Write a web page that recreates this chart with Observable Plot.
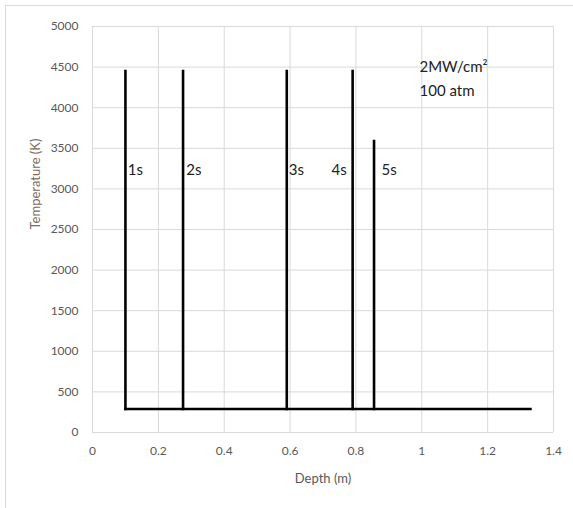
<!DOCTYPE html>
<html>
<head>
<meta charset="utf-8">
<script src="https://cdn.jsdelivr.net/npm/d3@7"></script>
<script src="https://cdn.jsdelivr.net/npm/@observablehq/plot@0.6"></script>
<style>
  html, body { margin: 0; padding: 0; background: #fff; }
  #wrap { position: relative; width: 573px; height: 508px; overflow: hidden; }
  #frame { position: absolute; left: 5px; top: 5px; width: 600px; height: 600px; border: 1px solid #d9d9d9; box-sizing: border-box; pointer-events: none; }
  svg { display: block; }
</style>
</head>
<body>
<div id="wrap"><div id="frame"></div></div>
<script>
// Data
const times = ["1s", "2s", "3s", "4s", "5s"];
const depths = [0.1, 0.275, 0.59, 0.79, 0.855];      // m
const peakTemps = [4450, 4450, 4450, 4450, 3590];    // K
const baseTemp = 290;                                // K
const maxDepth = 1.33;                               // m
const labelDepths = [0.107, 0.285, 0.596, 0.772, 0.878];
const labelSide = ["start", "start", "start", "end", "start"];
const labelTemp = 3230;
const annotLines = ["2MW/cm²", "100 atm"];
const annotDepth = 0.993;
const annotTemps = [4500, 4200];
const xTicks = [0, 0.2, 0.4, 0.6, 0.8, 1, 1.2, 1.4];
const yTicks = [0, 500, 1000, 1500, 2000, 2500, 3000, 3500, 4000, 4500, 5000];

const verticals = times.flatMap((t, i) => [
  {t, x: depths[i], y: peakTemps[i]},
  {t, x: depths[i], y: baseTemp}
]);
const baseline = [{x: depths[0], y: baseTemp}, {x: maxDepth, y: baseTemp}];
const labels = times.map((t, i) => ({t, x: labelDepths[i], y: labelTemp, side: labelSide[i]}));
const annots = annotLines.map((s, i) => ({s, x: annotDepth, y: annotTemps[i]}));

const font = "Lato, 'Open Sans', sans-serif";
const fmt = d => String(d);
const chart = Plot.plot({
  width: 573,
  height: 508,
  marginLeft: 92,
  marginRight: 20,
  marginTop: 26,
  marginBottom: 76,
  style: {fontFamily: font, fontSize: "12px", color: "#595959", background: "transparent"},
  x: {domain: [0, 1.4], label: null},
  y: {domain: [0, 5000], label: null},
  marks: [
    Plot.gridX(xTicks, {stroke: "#d9d9d9", strokeOpacity: 1, strokeWidth: 1}),
    Plot.gridY(yTicks, {stroke: "#d9d9d9", strokeOpacity: 1, strokeWidth: 1}),
    Plot.axisX(xTicks, {tickSize: 0, tickPadding: 14, tickFormat: fmt, fill: "#595959", fontSize: 12, label: null}),
    Plot.axisY(yTicks, {tickSize: 0, tickPadding: 14, tickFormat: fmt, fill: "#595959", fontSize: 12, label: null}),
    Plot.text(["Depth (m)"], {frameAnchor: "bottom", dy: 50, fill: "#595959", fontSize: 13}),
    Plot.text(["Temperature (K)"], {frameAnchor: "left", dx: -57, rotate: -90, fill: "#7d6a5a", fontSize: 13}),
    Plot.line(verticals, {x: "x", y: "y", z: "t", stroke: "black", strokeWidth: 2.6, strokeLinecap: "square"}),
    Plot.line(baseline, {x: "x", y: "y", stroke: "black", strokeWidth: 2.6, strokeLinecap: "square"}),
    Plot.text(labels.filter(d => d.side === "start"), {x: "x", y: "y", text: "t", textAnchor: "start", fill: "#222", fontSize: 15}),
    Plot.text(labels.filter(d => d.side === "end"), {x: "x", y: "y", text: "t", textAnchor: "end", fill: "#222", fontSize: 15}),
    Plot.text(annots, {x: "x", y: "y", text: "s", textAnchor: "start", fill: "#222", fontSize: 15})
  ]
});
document.getElementById("wrap").appendChild(chart);
</script>
</body>
</html>
